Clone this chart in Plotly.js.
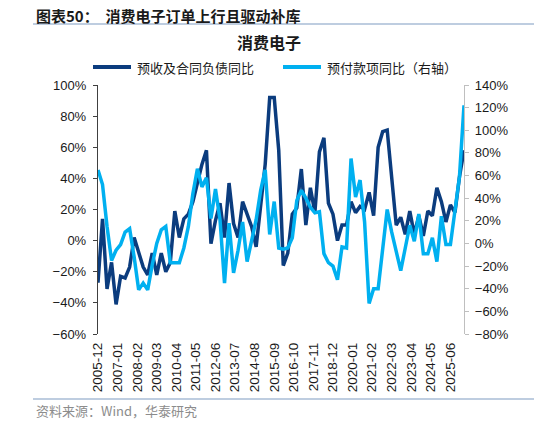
<!DOCTYPE html>
<html>
<head>
<meta charset="utf-8">
<script src="https://cdn.plot.ly/plotly-3.0.1.min.js"></script>
<style>
html,body{margin:0;padding:0;background:#fff;}
#chart{width:534px;height:424px;}
</style>
</head>
<body>
<div id="chart"></div>
<script>
// Tick labels (every 13 months from 2005-12)
const tickLabels = ["2005-12","2007-01","2008-02","2009-03","2010-04","2011-05","2012-06","2013-07","2014-08","2015-09","2016-10","2017-11","2018-12","2020-01","2021-02","2022-03","2023-04","2024-05","2025-06"];
const seriesNames = ["预收及合同负债同比","预付款项同比（右轴）"];
// 预收及合同负债同比 (left axis, %), quarterly
const advanceReceipts = [-27,14,-31,-14,-41,-23,-24,-17,2,-7,-17,-22,-8,-22,-8,-20,-14,19,2,14,17,25,38,49,58,-2,13,24,2,37,11,2,25,17,9,-4,22,49,92,92,58,-16,-8,17,21,46,10,34,18,57,66,24,17,0,10,10,25,18,22,20,31,16,60,70,71,41,10,15,4,19,4,16,3,19,16,34,25,12,23,18,41,58];
// 预付款项同比 (right axis, %), quarterly
const prepayments = [65,52,15,-15,-6,-1,10,13,-12,-41,-35,-41,-19,0,12,15,-17,-17,-17,-4,15,44,66,50,58,22,48,21,-35,18,-26,-6,19,-16,2,21,47,65,8,37,-4,-5,-4,5,38,47,40,32,27,28,-9,-17,-20,-32,-3,-4,75,41,56,19,-53,-40,-40,-6,30,10,-7,-24,-4,16,2,26,-9,-9,5,-16,24,-1,-1,28,59,122];

// x positions: months since 2005-12 (quarterly points)
const xs = advanceReceipts.map((_, i) => i * 3);
const tickVals = tickLabels.map((_, k) => k * 13);
const xRange = [0, (advanceReceipts.length - 1) * 3];

const W = 534, H = 424;
const L = 98, R = 70, T = 85, B = 90;
const pw = W - L - R, ph = H - T - B;
const px = v => (v - L) / pw;
const py = v => (H - B - v) / ph;

const dark = '#0b3c7e';
const light = '#00b0f0';
const cjk = '"Noto Sans CJK SC", "Noto Sans", sans-serif';
const lat = '"Liberation Sans", Arial, sans-serif';

const traces = [
  {x: xs, y: advanceReceipts, type: 'scatter', mode: 'lines', name: seriesNames[0],
   line: {color: dark, width: 3.5}, yaxis: 'y', xaxis: 'x', showlegend: false},
  {x: xs, y: prepayments, type: 'scatter', mode: 'lines', name: seriesNames[1],
   line: {color: light, width: 3.5}, yaxis: 'y2', xaxis: 'x', showlegend: false}
];

const layout = {
  width: W, height: H,
  margin: {l: L, r: R, t: T, b: B, pad: 0},
  paper_bgcolor: '#fff', plot_bgcolor: '#fff',
  showlegend: false,
  xaxis: {
    range: xRange, tickmode: 'array', tickvals: tickVals, ticktext: tickLabels,
    tickangle: -90, showgrid: false, zeroline: false, showline: false, ticks: '',
    ticklabelstandoff: 5,
    tickfont: {family: lat, size: 13.5, color: '#1a1a1a'}, fixedrange: true
  },
  xaxis2: {
    overlaying: 'x', anchor: 'free', position: 0.375, range: xRange,
    tickmode: 'array', tickvals: tickVals, showticklabels: false,
    ticks: 'outside', ticklen: 4, tickcolor: '#7f7f7f', tickwidth: 1,
    showline: true, linecolor: '#7f7f7f', linewidth: 1.5, showgrid: false, zeroline: false
  },
  yaxis: {
    range: [-60, 100], dtick: 20, tick0: 0, ticksuffix: '%', showgrid: false, zeroline: false,
    showline: true, linecolor: '#404040', linewidth: 1.2, ticks: 'outside', ticklen: 4,
    ticklabelstandoff: 4,
    tickcolor: '#404040', tickfont: {family: lat, size: 13, color: '#1a1a1a'}
  },
  yaxis2: {
    overlaying: 'y', side: 'right', range: [-80, 140], dtick: 20, tick0: 0, ticksuffix: '%',
    showgrid: false, zeroline: false, showline: true, linecolor: '#bfbfbf', linewidth: 1.2,
    ticks: 'outside', ticklen: 4, tickcolor: '#bfbfbf', ticklabelstandoff: 3,
    tickfont: {family: lat, size: 13, color: '#1a1a1a'}
  },
  shapes: [
    {type: 'line', xref: 'paper', yref: 'paper', x0: px(33), x1: px(534), y0: py(24), y1: py(24),
     line: {color: '#a9bcd6', width: 1.5}},
    {type: 'line', xref: 'paper', yref: 'paper', x0: px(33), x1: px(534), y0: py(399), y1: py(399),
     line: {color: '#a9bcd6', width: 1.5}},
    {type: 'line', xref: 'paper', yref: 'paper', x0: px(93), x1: px(131), y0: py(67), y1: py(67),
     line: {color: dark, width: 4}},
    {type: 'line', xref: 'paper', yref: 'paper', x0: px(283), x1: px(321), y0: py(67), y1: py(67),
     line: {color: light, width: 4}}
  ],
  annotations: [
    {text: '<b>图表50：  消费电子订单上行且驱动补库</b>', xref: 'paper', yref: 'paper',
     x: px(34), y: py(15), xanchor: 'left', yanchor: 'middle', showarrow: false,
     font: {family: cjk, size: 15, color: '#1a1a1a'}},
    {text: '<b>消费电子</b>', xref: 'paper', yref: 'paper',
     x: px(269), y: py(42), xanchor: 'center', yanchor: 'middle', showarrow: false,
     font: {family: cjk, size: 16, color: '#1a1a1a'}},
    {text: seriesNames[0], xref: 'paper', yref: 'paper',
     x: px(135), y: py(67), xanchor: 'left', yanchor: 'middle', showarrow: false,
     font: {family: cjk, size: 13, color: '#1a1a1a'}},
    {text: seriesNames[1], xref: 'paper', yref: 'paper',
     x: px(325), y: py(67), xanchor: 'left', yanchor: 'middle', showarrow: false,
     font: {family: cjk, size: 13, color: '#1a1a1a'}},
    {text: '资料来源：Wind，华泰研究', xref: 'paper', yref: 'paper',
     x: px(34), y: py(410), xanchor: 'left', yanchor: 'middle', showarrow: false,
     font: {family: cjk, size: 13, color: '#8c8c8c'}}
  ]
};

Plotly.newPlot('chart', traces, layout, {displayModeBar: false, staticPlot: true});
</script>
</body>
</html>
